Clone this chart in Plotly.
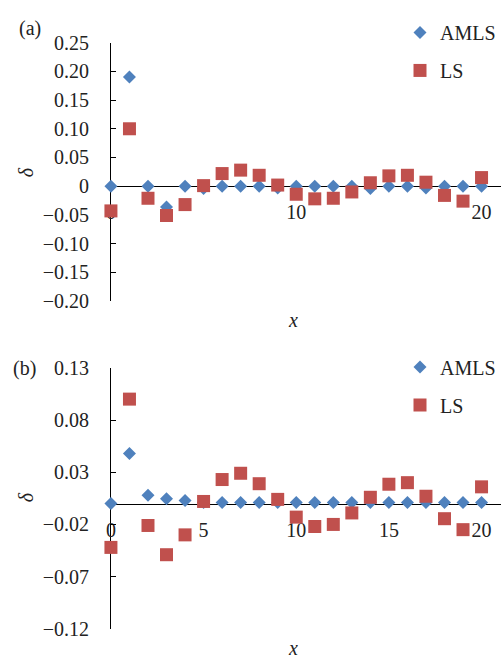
import plotly.graph_objects as go

# ---------------- data ----------------
x_vals = list(range(0, 21))

# panel (a)
amls_a = [0.0, 0.19, 0.0, -0.036, 0.0, -0.004, 0.0, 0.0, 0.0, -0.003, 0.0,
          0.0, 0.0, 0.0, -0.004, 0.0, 0.0, -0.003, 0.0, 0.0, 0.0]
ls_a = [-0.043, 0.100, -0.021, -0.051, -0.032, 0.001, 0.022, 0.028, 0.019, 0.002, -0.014,
        -0.022, -0.021, -0.010, 0.006, 0.018, 0.019, 0.007, -0.016, -0.026, 0.015]

# panel (b)
amls_b = [0.0, 0.048, 0.008, 0.0046, 0.003, 0.001, 0.001, 0.001, 0.001, 0.001, 0.001,
          0.001, 0.001, 0.001, 0.001, 0.001, 0.001, 0.001, 0.001, 0.001, 0.001]
ls_b = [-0.042, 0.100, -0.021, -0.049, -0.030, 0.002, 0.023, 0.029, 0.019, 0.004, -0.013,
        -0.022, -0.020, -0.009, 0.006, 0.0185, 0.020, 0.007, -0.0145, -0.025, 0.016]

series_names = ["AMLS", "LS"]

# tick labels
ytick_a_vals = [0.25, 0.20, 0.15, 0.10, 0.05, 0.0, -0.05, -0.10, -0.15, -0.20]
ytick_a_text = ["0.25", "0.20", "0.15", "0.10", "0.05", "0", "\u22120.05", "\u22120.10", "\u22120.15", "\u22120.20"]
ytick_b_vals = [0.13, 0.08, 0.03, -0.02, -0.07, -0.12]
ytick_b_text = ["0.13", "0.08", "0.03", "\u22120.02", "\u22120.07", "\u22120.12"]
xtick_a_vals = [0, 10, 20]
xtick_b_vals = [0, 5, 10, 15, 20]

# ---------------- style ----------------
W, H = 501, 665
FONT = "Liberation Serif, Times New Roman, serif"
BLUE = "#4F81BD"
RED = "#C0504D"
FS = 20

def px_x(p):
    return p / W

def px_y(p):
    return 1 - p / H

xdom = [px_x(107), 1.0]
ya_dom = [px_y(300), px_y(32.7)]
yb_dom = [px_y(639), px_y(369)]
ya_range = [-0.20, 0.25]
yb_range = [-0.12, 0.13]
x_range = [0, 21.05]

def zero_pos(dom, rng):
    return dom[0] + (0 - rng[0]) / (rng[1] - rng[0]) * (dom[1] - dom[0])

fig = go.Figure()

fig.add_trace(go.Scatter(x=x_vals, y=amls_a, mode="markers", name=series_names[0],
                         marker=dict(symbol="diamond", size=10, color=BLUE),
                         xaxis="x", yaxis="y", legend="legend", legendgroup="a1",
                         cliponaxis=False))
fig.add_trace(go.Scatter(x=x_vals, y=ls_a, mode="markers", name=series_names[1],
                         marker=dict(symbol="square", size=13, color=RED),
                         xaxis="x", yaxis="y", legend="legend", legendgroup="a2",
                         cliponaxis=False))
fig.add_trace(go.Scatter(x=x_vals, y=amls_b, mode="markers", name=series_names[0],
                         marker=dict(symbol="diamond", size=10, color=BLUE),
                         xaxis="x2", yaxis="y2", legend="legend2", legendgroup="b1",
                         cliponaxis=False))
fig.add_trace(go.Scatter(x=x_vals, y=ls_b, mode="markers", name=series_names[1],
                         marker=dict(symbol="square", size=13, color=RED),
                         xaxis="x2", yaxis="y2", legend="legend2", legendgroup="b2",
                         cliponaxis=False))

common_x = dict(range=x_range, domain=xdom, showgrid=False, zeroline=False,
                showline=True, linecolor="black", linewidth=1,
                ticks="", tickfont=dict(family=FONT, size=FS, color="#222"),
                ticklabelstandoff=8, layer="below traces", anchor="free")
common_y = dict(showgrid=False, zeroline=False, showline=True, linecolor="black",
                linewidth=1, ticks="inside", ticklen=5, tickcolor="black",
                tickfont=dict(family=FONT, size=FS, color="#222"),
                ticklabelstandoff=17, layer="below traces")

leg_common = dict(font=dict(family=FONT, size=FS, color="#222"), bgcolor="rgba(0,0,0,0)",
                  xanchor="right", x=1.0, yanchor="top", tracegroupgap=9,
                  itemwidth=30, traceorder="grouped")

fig.update_layout(
    width=W, height=H,
    margin=dict(l=0, r=0, t=0, b=0),
    paper_bgcolor="white", plot_bgcolor="white",
    font=dict(family=FONT, size=FS, color="#222"),
    xaxis=dict(**common_x, tickvals=xtick_a_vals, position=zero_pos(ya_dom, ya_range)),
    yaxis=dict(**common_y, range=ya_range, domain=ya_dom, anchor="x",
               tickvals=ytick_a_vals, ticktext=ytick_a_text),
    xaxis2=dict(**common_x, tickvals=xtick_b_vals, position=zero_pos(yb_dom, yb_range)),
    yaxis2=dict(**common_y, range=yb_range, domain=yb_dom, anchor="x2",
                tickvals=ytick_b_vals, ticktext=ytick_b_text),
    legend=dict(**leg_common, y=px_y(2)),
    legend2=dict(**leg_common, y=px_y(348)),
    showlegend=True,
)

ann_font = dict(family=FONT, size=FS, color="#222")
annotations = [
    dict(text="(a)", x=px_x(25), y=px_y(18)),
    dict(text="(b)", x=px_x(20), y=px_y(370)),
    dict(text="<i>\u03b4</i>", x=px_x(22), y=px_y(167), textangle=-90),
    dict(text="<i>\u03b4</i>", x=px_x(22), y=px_y(503), textangle=-90),
    dict(text="<i>x</i>", x=px_x(291), y=px_y(320)),
    dict(text="<i>x</i>", x=px_x(291), y=px_y(659)),
]
for a in annotations:
    fig.add_annotation(xref="paper", yref="paper", showarrow=False,
                       xanchor="center", yanchor="middle", font=ann_font, **a)

fig.write_html("out.html", config={"displayModeBar": False},
               post_script="document.body.style.margin='0';document.body.style.overflow='hidden';")
